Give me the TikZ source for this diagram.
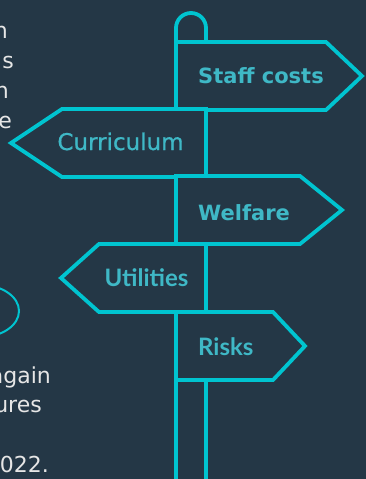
\documentclass[tikz,border=0pt]{standalone}
\usepackage{fontspec}
\setmainfont{DejaVu Sans}
\newfontfamily\latofont{Lato}
\newfontfamily\mediumfont[FakeBold=0.8]{DejaVu Sans}
\definecolor{board}{HTML}{243746}
\definecolor{signline}{HTML}{00C4D0}
\definecolor{signtext}{HTML}{3FB8C6}
\definecolor{bodytext}{HTML}{E6E6E6}

\begin{document}
\begin{tikzpicture}[x=1pt, y=-1pt,
		post/.style={signline, line width=3.8pt},
		sign/.style={post, fill=board},
		signlabel/.style={signtext, inner sep=0pt},
		bodytxt/.style={bodytext, inner sep=0pt, anchor=base east, font=\fontsize{22}{22}\selectfont}]
			\fill[board] (0, 0) rectangle (366, 479);
			\useasboundingbox (0, 0) rectangle (366, 479);
			\clip (0, 0) rectangle (366, 479);
			% slide text cut off at the left
			\node[bodytxt] (t1) at (8, 38) {n};
			\node[bodytxt] (t2) at (14, 68) {s};
			\node[bodytxt] (t3) at (9, 98) {n};
			\node[bodytxt] (t4) at (12, 128) {e};
			\node[bodytxt] (b1) at (51, 383) {again};
			\node[bodytxt] (b2) at (42, 412) {ures};
			\node[bodytxt] (b3) at (49, 472) {2022.};
			\draw[signline, line width=2pt] (-19, 311) ellipse [x radius=38, y radius=26];
			% the post
			\draw[post] (176, 479) -- (176, 28) arc [start angle=180, end angle=360, radius=15] -- (206, 479);
			% the signs
			\foreach \base/\shoulder/\tip/\top in {176/326/362/42, 206/62/11/109, 176/300/342/176, 206/99/61/244, 176/273/305/312}
			{
				\filldraw[sign] (\base, \top) -- (\shoulder, \top) -- (\tip, \top+34) -- (\shoulder, \top+68) -- (\base, \top+68) -- cycle;
			}
			\node[signlabel, anchor=base west, font=\bfseries\fontsize{21}{21}\selectfont] (staff) at (198, 83) {Staff costs};
			\node[signlabel, anchor=base, font=\mediumfont\fontsize{23}{23}\selectfont] (curriculum) at (120.5, 150) {Curriculum};
			\node[signlabel, anchor=base west, font=\bfseries\fontsize{21}{21}\selectfont] (welfare) at (198, 220) {Welfare};
			\node[signlabel, anchor=base, font=\latofont\bfseries\fontsize{24}{24}\selectfont] (utilities) at (146.5, 286) {Utilities};
			\node[signlabel, anchor=base west, font=\latofont\bfseries\fontsize{24}{24}\selectfont] (risks) at (198, 355) {Risks};
		\end{tikzpicture}
\end{document}
